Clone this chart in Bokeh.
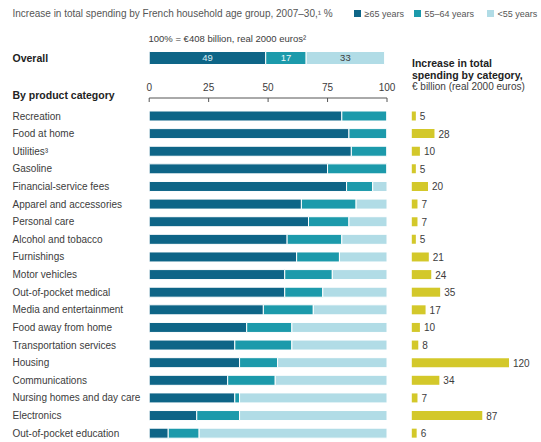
import numpy as np
from bokeh.plotting import figure
from bokeh.models import Range1d, ColumnDataSource
from bokeh.core.properties import value
from bokeh.embed import file_html
from bokeh.resources import INLINE

# ---------------- data ----------------
categories = ["Recreation", "Food at home", "Utilities\u00b3", "Gasoline",
              "Financial-service fees", "Apparel and accessories", "Personal care",
              "Alcohol and tobacco", "Furnishings", "Motor vehicles",
              "Out-of-pocket medical", "Media and entertainment", "Food away from home",
              "Transportation services", "Housing", "Communications",
              "Nursing homes and day care", "Electronics", "Out-of-pocket education"]
over65 = [81, 84, 85, 75, 83, 64, 67, 58, 62, 57, 57, 48, 41, 36, 38, 33, 36, 20, 8]
age55_64 = [19, 16, 15, 25, 11, 23, 17, 23, 18, 20, 16, 21, 19, 24, 16, 20, 2, 18, 13]
under55 = [0, 0, 0, 0, 6, 13, 16, 19, 20, 23, 27, 31, 40, 40, 46, 47, 62, 62, 79]
increase = [5, 28, 10, 5, 20, 7, 7, 5, 21, 24, 35, 17, 10, 8, 120, 34, 7, 87, 6]
overall = [49, 17, 33]
series_names = ["\u226565 years", "55\u201364 years", "<55 years"]
axis_ticks = [0, 25, 50, 75, 100]

# ---------------- styles / layout ----------------
W, H = 541, 442
C_DARK, C_MID, C_LIGHT = "#0e6587", "#1c9aab", "#b1dce6"
C_YEL = "#d3c82a"
FONT = value("Liberation Sans")
TXT = "#3c3c3c"

# pct scale: 0 -> px 148.7, 100 -> px 386.5
PX0, PX100 = 148.7, 386.5
SX = (PX100 - PX0) / 100.0
x_start, x_end = -PX0 / SX, (W - PX0) / SX
# increase scale: 0 -> px 411.3, 120 -> px 508.5
IX0, IX120 = 411.3, 508.5
SI = (IX120 - IX0) / 120.0
i_start, i_end = -IX0 / SI, (W - IX0) / SI

def xd(cx):
    return (cx - PX0) / SX

ROW0, STEP = 115.5, 17.62
rows_y = ROW0 + STEP * np.arange(len(categories))

p = figure(width=W, height=H, output_backend="svg", toolbar_location=None,
           x_range=Range1d(x_start, x_end), y_range=Range1d(H, 0),
           x_axis_type=None, y_axis_type=None, min_border=0,
           min_border_left=0, min_border_right=0, min_border_top=0, min_border_bottom=0)
p.extra_x_ranges = {"inc": Range1d(i_start, i_end)}
p.grid.visible = False
p.outline_line_color = None
p.background_fill_color = "white"
p.border_fill_color = "white"

# ---------------- stacked bars ----------------
o = np.array(over65, float)
m = np.array(age55_64, float)
u = np.array(under55, float)
src = ColumnDataSource(dict(y=rows_y, o=o, om=o + m, omu=o + m + u,
                            inc=increase, lbl=[str(v) for v in increase],
                            cat=categories))
BH = 10
p.hbar(y="y", left=0, right="o", height=BH, source=src, fill_color=C_DARK,
       line_color="white", line_width=1)
p.hbar(y="y", left="o", right="om", height=BH, source=src, fill_color=C_MID,
       line_color="white", line_width=1)
p.hbar(y="y", left="om", right="omu", height=BH, source=src, fill_color=C_LIGHT,
       line_color="white", line_width=1)

p.text(x=xd(12), y="y", text="cat", source=src, text_font=FONT, text_font_size="10px",
       text_color=TXT, text_baseline="middle", text_align="left")

# increase bars
p.hbar(y="y", left=0, right="inc", height=9, source=src, fill_color=C_YEL,
       line_color=None, x_range_name="inc")
p.text(x="inc", y="y", text="lbl", source=src, x_range_name="inc", x_offset=4,
       text_font=FONT, text_font_size="10px", text_color=TXT,
       text_baseline="middle", text_align="left")

# ---------------- overall bar ----------------
OY = 57.5
ov = np.array(overall, float)
ol = np.concatenate([[0], np.cumsum(ov)[:-1]])
orr = np.cumsum(ov)
osrc = ColumnDataSource(dict(l=ol, r=orr, c=[C_DARK, C_MID, C_LIGHT],
                             mid=(ol + orr) / 2, t=[str(v) for v in overall],
                             tc=["#d6eef3", "#eaf7f9", "#3c3c3c"],
                             y=[OY] * 3))
p.hbar(y="y", left="l", right="r", height=13, fill_color="c", line_color="white",
       line_width=1, source=osrc)
p.text(x="mid", y="y", text="t", text_color="tc", source=osrc, text_font=FONT,
       text_font_size="9.5px", text_align="center", text_baseline="middle")

# ---------------- axis ----------------
AY = 97.5
p.segment(x0=[axis_ticks[0]], x1=[axis_ticks[-1]], y0=[AY], y1=[AY], line_color="#555555",
          line_width=1)
p.segment(x0=axis_ticks, x1=axis_ticks, y0=[AY] * 5, y1=[AY + 4] * 5,
          line_color="#555555", line_width=1)
p.text(x=axis_ticks, y=[86.5] * 5, text=[str(t) for t in axis_ticks], text_font=FONT,
       text_font_size="10px", text_color=TXT, text_align="center",
       text_baseline="middle")

# ---------------- texts ----------------
p.text(x=[xd(12)], y=[13], text=["Increase in total spending by French household age group, 2007\u201330,\u00b9 %"],
       text_font=FONT, text_font_size="10px", text_color="#555555",
       text_baseline="middle", text_align="left")
p.text(x=[xd(148)], y=[38], text=["100% = \u20ac408 billion, real 2000 euros\u00b2"],
       text_font=FONT, text_font_size="9.5px", text_color="#3c3c3c",
       text_baseline="middle", text_align="left")
p.text(x=[xd(12), xd(12)], y=[OY, 94], text=["Overall", "By product category"],
       text_font=FONT, text_font_size="10.5px", text_font_style="bold", text_color="#222222",
       text_baseline="middle", text_align="left")
p.text(x=[xd(411.5), xd(411.5)], y=[62.5, 74], text=["Increase in total", "spending by category,"],
       text_font=FONT, text_font_size="10.5px", text_font_style="bold", text_color="#222222",
       text_baseline="middle", text_align="left")
p.text(x=[xd(411.5)], y=[85.5], text=["\u20ac billion (real 2000 euros)"],
       text_font=FONT, text_font_size="10px", text_color="#3c3c3c",
       text_baseline="middle", text_align="left")

# legend
LY = 13
sq_cx = [357, 417, 490]
tx_cx = [364, 424, 497]
p.rect(x=[xd(c) for c in sq_cx], y=[LY] * 3, width=7 / SX, height=7,
       fill_color=[C_DARK, C_MID, C_LIGHT], line_color=None)
p.text(x=[xd(c) for c in tx_cx], y=[LY] * 3, text=series_names, text_font=FONT,
       text_font_size="9px", text_color="#555555", text_baseline="middle",
       text_align="left")

open("out.html", "w").write(file_html(p, INLINE))
